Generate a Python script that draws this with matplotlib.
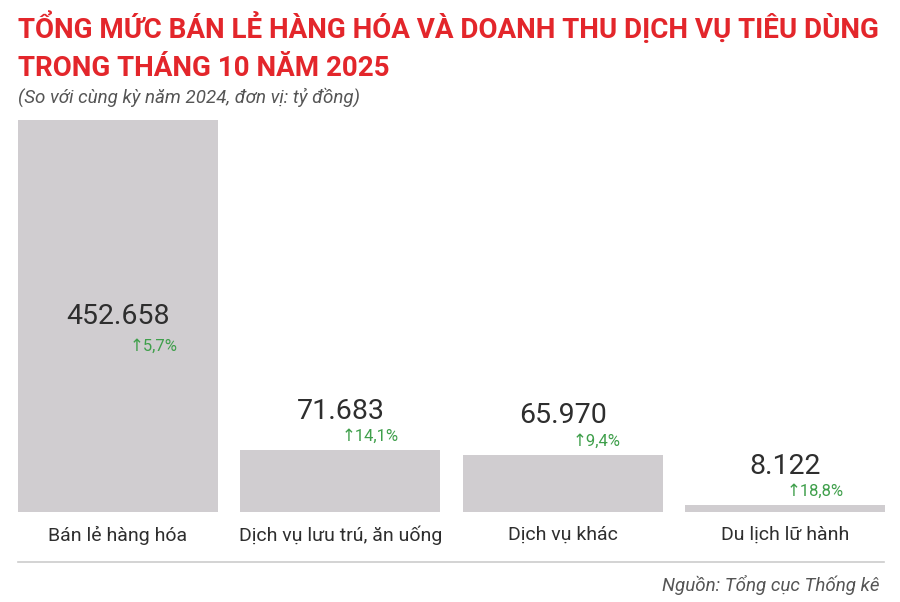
import matplotlib.pyplot as plt

plt.rcParams['font.family'] = ['Roboto', 'DejaVu Sans']

categories = ['Bán lẻ hàng hóa', 'Dịch vụ lưu trú, ăn uống', 'Dịch vụ khác', 'Du lịch lữ hành']
values = [452658, 71683, 65970, 8122]
growth = ['5,7%', '14,1%', '9,4%', '18,8%']

red = '#e3262b'
dark = '#2e2e2e'
green = '#3f9f4b'
bar_color = '#d0cdd0'

fig = plt.figure(figsize=(9, 6.02), dpi=100)
ax = fig.add_axes([18 / 900, 90 / 602, 867 / 900, 392 / 602])

x = range(len(categories))
ax.bar(x, values, width=0.9, color=bar_color)
ax.set_xlim(-0.45, 3.45)
ax.set_ylim(0, max(values))
ax.axis('off')

for i, v in enumerate(values):
    label = f'{v:,}'.replace(',', '.')
    if i == 0:
        ax.text(i, v / 2, label, ha='center', va='center', fontsize=20.5, color=dark)
        ax.annotate('↑' + growth[i], (i, v / 2), xytext=(43, -22), textcoords='offset points',
                    ha='right', va='center', fontsize=12, color=green)
    else:
        ax.annotate(label, (i, v), xytext=(0, 28), textcoords='offset points',
                    ha='center', va='center', fontsize=20.5, color=dark)
        ax.annotate('↑' + growth[i], (i, v), xytext=(42, 10), textcoords='offset points',
                    ha='right', va='center', fontsize=12, color=green)
    ax.text(i, -16000, categories[i], ha='center', va='top', fontsize=14, color=dark)

# title: shrink until it fits the width of the chart
t1 = fig.text(18 / 900, 1 - 28 / 602, 'TỔNG MỨC BÁN LẺ HÀNG HÓA VÀ DOANH THU DỊCH VỤ TIÊU DÙNG',
              fontsize=21, fontweight='bold', color=red, va='center', ha='left')
r = fig.canvas.get_renderer()
size = 21
while t1.get_window_extent(r).width > 862 and size > 10:
    size -= 0.25
    t1.set_fontsize(size)
fig.text(18 / 900, 1 - 68 / 602, 'TRONG THÁNG 10 NĂM 2025',
         fontsize=size, fontweight='bold', color=red, va='center', ha='left')
fig.text(18 / 900, 1 - 97 / 602, '(So với cùng kỳ năm 2024, đơn vị: tỷ đồng)',
         fontsize=13.5, style='italic', color='#555555', va='center', ha='left')

fig.add_artist(plt.Line2D([18 / 900, 884 / 900], [1 - 562 / 602, 1 - 562 / 602],
                          color='#cccccc', lw=1.2, transform=fig.transFigure))
fig.text(880 / 900, 1 - 585 / 602, 'Nguồn: Tổng cục Thống kê',
         fontsize=13.5, style='italic', color='#555555', va='center', ha='right')

fig.savefig('out.png', dpi=100, facecolor='white')
